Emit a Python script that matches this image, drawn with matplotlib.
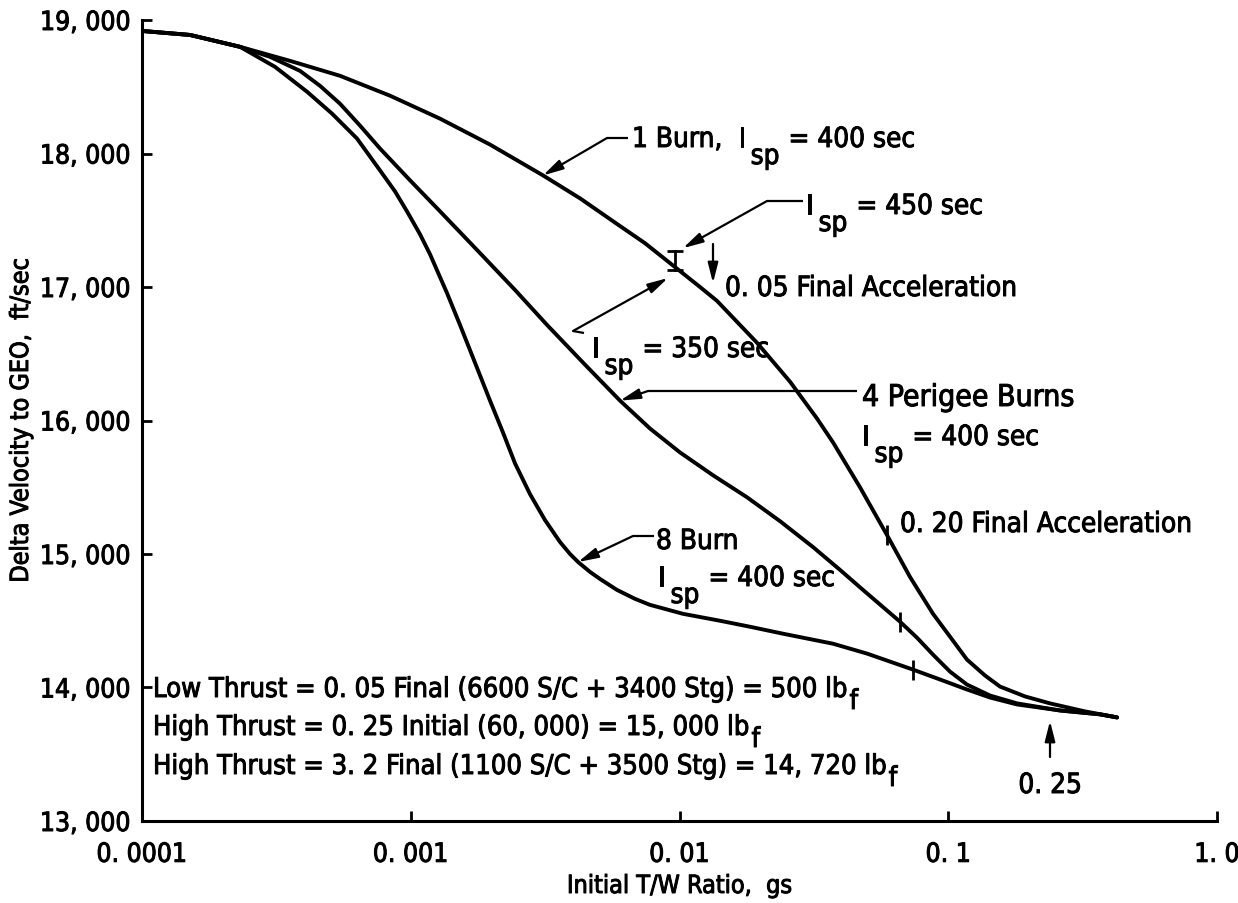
import matplotlib
matplotlib.use("Agg")
import matplotlib.pyplot as plt
import matplotlib.patheffects as pe
from matplotlib import font_manager as fm
from matplotlib.ticker import NullLocator

# ---------------- data ----------------
x_one_burn = [0.0001, 0.0001509, 0.0002316, 0.0003554, 0.0005455, 0.0008374, 0.001285,
              0.001972, 0.003105, 0.004266, 0.005656, 0.007441, 0.009220, 0.01192,
              0.01379, 0.01943, 0.02577, 0.03248, 0.03726, 0.04694, 0.05917, 0.07206,
              0.08777, 0.1015, 0.1174, 0.1370, 0.1558, 0.1931, 0.2391, 0.3228, 0.4246]
dv_one_burn = [18918, 18888, 18799, 18694, 18582, 18433, 18261,
               18067, 17836, 17664, 17493, 17328, 17179, 17000,
               16896, 16582, 16291, 16015, 15836, 15500, 15142, 14828,
               14552, 14381, 14209, 14090, 14007, 13933, 13881, 13821, 13776]

x_four_burn = [0.0001, 0.0001509, 0.0002316, 0.0002995, 0.0003872, 0.0004596, 0.0005455,
               0.0006475, 0.0007687, 0.000994, 0.001285, 0.001810, 0.002443, 0.003214,
               0.004452, 0.006006, 0.007766, 0.01004, 0.01332, 0.01783, 0.02366, 0.03139,
               0.03956, 0.04817, 0.06615, 0.07651, 0.08777, 0.1015, 0.1174, 0.1430,
               0.1803, 0.2605, 0.3670, 0.4246]
dv_four_burn = [18918, 18888, 18799, 18724, 18619, 18507, 18373,
                18209, 18037, 17799, 17567, 17254, 16978, 16716,
                16418, 16149, 15940, 15761, 15590, 15425, 15246, 15052,
                14881, 14731, 14493, 14373, 14246, 14119, 14022, 13940,
                13881, 13828, 13799, 13776]

x_eight_burn = [0.0001, 0.0001509, 0.0002316, 0.0003126, 0.0004111, 0.0005093, 0.000631,
                0.0007687, 0.000874, 0.000968, 0.001082, 0.001179, 0.001364, 0.001525,
                0.001734, 0.001972, 0.002204, 0.002443, 0.002779, 0.003159, 0.003592,
                0.003915, 0.004193, 0.004645, 0.005061, 0.005853, 0.006831, 0.007766,
                0.01030, 0.01415, 0.01830, 0.02427, 0.03726, 0.04985, 0.06072, 0.07393,
                0.09318, 0.1174, 0.1430, 0.1803, 0.2605, 0.3670, 0.4246]
dv_eight_burn = [18918, 18888, 18799, 18649, 18463, 18299, 18112,
                 17873, 17716, 17567, 17396, 17246, 16955, 16716,
                 16433, 16149, 15910, 15679, 15448, 15254, 15090,
                 15000, 14940, 14866, 14813, 14731, 14664, 14619,
                 14552, 14500, 14455, 14403, 14328, 14254, 14194, 14134,
                 14060, 13985, 13925, 13873, 13828, 13799, 13776]

# 0.20 final-acceleration marks on the three curves
accel_mark_x = [0.05917, 0.06615, 0.07393]
accel_mark_dv = [15142, 14493, 14134]

# 0.05 final-acceleration I-bar on the 1-burn curve (Isp 350..450 range)
ibar_x = 0.00962
ibar_dv = [17127, 17269]

x_ticks = [0.0001, 0.001, 0.01, 0.1, 1.0]
x_tick_labels = ["0. 0001", "0. 001", "0. 01", "0. 1", "1. 0"]
y_ticks = [13000, 14000, 15000, 16000, 17000, 18000, 19000]
y_tick_labels = ["13, 000", "14, 000", "15, 000", "16, 000", "17, 000", "18, 000", "19, 000"]

# ---------------- font ----------------
has_cond = any(e.name == "DejaVu Sans" and e.stretch != "normal"
               for e in fm.fontManager.ttflist)
if has_cond:
    FP = dict(family="DejaVu Sans", fontstretch="condensed")
    SC = 1.0
else:
    FP = dict(family="DejaVu Sans")
    SC = 0.9
FS = 20 * SC
FS_TICK = 19 * SC
FS_LAB = 18 * SC
BOLDEN = [pe.withStroke(linewidth=0.7, foreground="black")]

# ---------------- figure ----------------
W, H = 1238, 904
AX_L, AX_R, AX_T, AX_B = 142, 1217, 21, 822
fig = plt.figure(figsize=(W / 100, H / 100), dpi=100)
ax = fig.add_axes([AX_L / W, (H - AX_B) / H, (AX_R - AX_L) / W, (AX_B - AX_T) / H])
renderer = fig.canvas.get_renderer()

LW = 2.8
for xs, ys in ((x_one_burn, dv_one_burn), (x_four_burn, dv_four_burn),
               (x_eight_burn, dv_eight_burn)):
    ax.plot(xs, ys, color="black", lw=LW, solid_joinstyle="round",
            solid_capstyle="round", zorder=3)

ax.plot(accel_mark_x, accel_mark_dv, ls="none", marker="|", ms=14, mew=2.0,
        color="black", zorder=4)
ax.plot([ibar_x, ibar_x], ibar_dv, color="black", lw=2.0, zorder=4)
ax.plot([ibar_x, ibar_x], ibar_dv, ls="none", marker="_", ms=11, mew=2.0,
        color="black", zorder=4)

ax.set_xscale("log")
ax.set_xlim(1e-4, 1.0)
ax.set_ylim(13000, 19000)
ax.set_xticks(x_ticks)
ax.set_xticklabels(x_tick_labels, fontsize=FS_TICK, **FP)
ax.xaxis.set_minor_locator(NullLocator())
ax.set_yticks(y_ticks)
ax.set_yticklabels(y_tick_labels, fontsize=FS_TICK, **FP)
for lab in ax.get_xticklabels() + ax.get_yticklabels():
    lab.set_path_effects(BOLDEN)
for s in ("top", "right"):
    ax.spines[s].set_visible(False)
for s in ("left", "bottom"):
    ax.spines[s].set_linewidth(2.2)
ax.tick_params(axis="both", direction="in", length=7.5, width=2.0)
ax.tick_params(axis="y", pad=8)
ax.tick_params(axis="x", pad=15)

xl = ax.set_xlabel("Initial T/W Ratio,  gs", fontsize=FS_LAB, **FP)
yl = ax.set_ylabel("Delta Velocity to GEO,  ft/sec", fontsize=FS_LAB, **FP)
xl.set_path_effects(BOLDEN)
yl.set_path_effects(BOLDEN)
ax.xaxis.set_label_coords(0.5, (AX_B - 875) / (AX_B - AX_T))
ax.yaxis.set_label_coords((33 - AX_L) / (AX_R - AX_L), 0.5)


def px2ax(px, py):
    return ((px - AX_L) / (AX_R - AX_L), (AX_B - py) / (AX_B - AX_T))


def runs(px, py, parts, size=FS):
    """parts: (text, drop_px, gap_px) pieces laid out left to right on a baseline."""
    x = px
    for text, dy, gap in parts:
        x += gap
        fx, fy = px2ax(x, py + dy)
        t = ax.text(fx, fy, text, transform=ax.transAxes, ha="left", va="baseline",
                    fontsize=size, clip_on=False, path_effects=BOLDEN, **FP)
        x += t.get_window_extent(renderer).width


def leader(points):
    xs, ys = zip(*[px2ax(*p) for p in points])
    ax.plot(xs, ys, transform=ax.transAxes, color="black", lw=1.6, clip_on=False,
            solid_capstyle="butt")


AP = dict(arrowstyle="-|>,head_length=1.1,head_width=0.28", color="black", lw=1.6,
          shrinkA=0, shrinkB=0, mutation_scale=11)


def arrow_to_data(start_px, xy):
    ax.annotate("", xy=xy, xycoords="data", xytext=px2ax(*start_px),
                textcoords="axes fraction", arrowprops=AP, annotation_clip=False)


def arrow_px(start_px, end_px):
    ax.annotate("", xy=px2ax(*end_px), xycoords="axes fraction",
                xytext=px2ax(*start_px), textcoords="axes fraction", arrowprops=AP,
                annotation_clip=False)


SUB = 17

# 1 Burn
leader([(628, 139), (607, 139)])
arrow_to_data((607, 139), (0.003105, 17836))
runs(632, 148, [("1 Burn,", 0, 0), ("I", 0, 16), ("sp", SUB, 5), ("= 400 sec", 0, 9)])

# Isp = 450
leader([(803, 202), (767, 202)])
arrow_to_data((767, 202), (0.0103, 17291))
runs(806, 215, [("I", 0, 0), ("sp", SUB, 5), ("= 450 sec", 0, 9)])

# 0.05 final acceleration
arrow_px((713, 245), (713, 284))
runs(725, 297, [("0. 05 Final Acceleration", 0, 0)])

# Isp = 350
leader([(584, 334), (573, 332)])
arrow_to_data((573, 332), (0.00906, 17067))
runs(592, 358, [("I", 0, 0), ("sp", SUB, 5), ("= 350 sec", 0, 9)])

# 4 Perigee burns
leader([(857, 392), (648, 392)])
arrow_to_data((648, 392), (0.006006, 16149))
runs(862, 407, [("4 Perigee Burns", 0, 0)], size=FS * 1.08)
runs(862, 446, [("I", 0, 0), ("sp", SUB, 5), ("= 400 sec", 0, 9)])

# 0.20 final acceleration
runs(900, 533, [("0. 20 Final Acceleration", 0, 0)])

# 8 Burn
leader([(654, 537), (633, 537)])
arrow_to_data((633, 537), (0.004193, 14940))
runs(656, 550, [("8 Burn", 0, 0)])
runs(658, 587, [("I", 0, 0), ("sp", SUB, 5), ("= 400 sec", 0, 9)])

# thrust notes
FS_NOTE = FS * 0.98
runs(153, 698, [("Low Thrust = 0. 05 Final (6600 S/C + 3400 Stg) = 500 lb", 0, 0),
                ("f", 12, 1)], size=FS_NOTE)
runs(153, 736, [("High Thrust = 0. 25 Initial (60, 000) = 15, 000 lb", 0, 0),
                ("f", 12, 1)], size=FS_NOTE)
runs(153, 775, [("High Thrust = 3. 2 Final (1100 S/C + 3500 Stg) = 14, 720 lb", 0, 0),
                ("f", 12, 1)], size=FS_NOTE)

# 0.25 arrow
arrow_px((1050, 758), (1050, 722))
fx, fy = px2ax(1050, 794)
ax.text(fx, fy, "0. 25", transform=ax.transAxes, ha="center", va="baseline",
        fontsize=FS, path_effects=BOLDEN, **FP)

fig.savefig("out.png", dpi=100, facecolor="white")
